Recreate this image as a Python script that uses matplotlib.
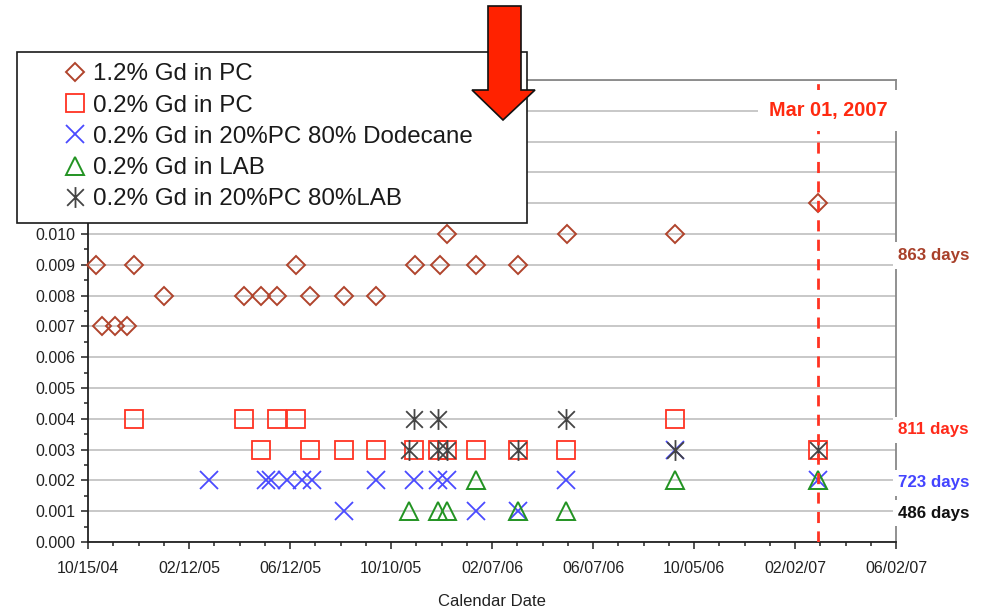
import numpy as np
import matplotlib
matplotlib.use('Agg')
import matplotlib.pyplot as plt
from matplotlib.lines import Line2D
from matplotlib.patches import Rectangle, Polygon
from matplotlib.path import Path
import matplotlib.transforms as mtransforms

START = np.datetime64('2004-10-15')
END = np.datetime64('2007-06-02')

gd12_pc_days = [10, 17, 32, 46, 55, 90, 185, 206, 225, 247, 264, 304, 342,
                388, 418, 426, 461, 511, 569, 698, 867]
gd12_pc_vals = [0.009, 0.007, 0.007, 0.007, 0.009, 0.008, 0.008, 0.008, 0.008,
                0.009, 0.008, 0.008, 0.008, 0.009, 0.009, 0.010, 0.009, 0.009,
                0.010, 0.010, 0.011]

gd02_pc_days = [55, 185, 206, 224, 247, 264, 304, 342, 387, 416, 426, 461,
                511, 568, 698, 867]
gd02_pc_vals = [0.004, 0.004, 0.003, 0.004, 0.004, 0.003, 0.003, 0.003, 0.003,
                0.003, 0.003, 0.003, 0.003, 0.003, 0.004, 0.003]

gd02_dod_days = [144, 211, 218, 236, 254, 266, 304, 342, 387, 416, 426, 461,
                 511, 568, 698, 867]
gd02_dod_vals = [0.002, 0.002, 0.002, 0.002, 0.002, 0.002, 0.001, 0.002, 0.002,
                 0.002, 0.002, 0.001, 0.001, 0.002, 0.003, 0.002]

gd02_lab_days = [381, 416, 426, 461, 511, 568, 698, 867]
gd02_lab_vals = [0.001, 0.001, 0.001, 0.002, 0.001, 0.001, 0.002, 0.002]

gd02_pclab_days = [381, 387, 416, 416, 426, 511, 568, 698, 867]
gd02_pclab_vals = [0.003, 0.004, 0.004, 0.003, 0.003, 0.003, 0.004, 0.003, 0.003]

SERIES_LABELS = ['1.2% Gd in PC', '0.2% Gd in PC',
                 '0.2% Gd in 20%PC 80% Dodecane', '0.2% Gd in LAB',
                 '0.2% Gd in 20%PC 80%LAB']

DAYS_LABELS = ['863 days', '811 days', '723 days', '486 days']
DAYS_LABEL_Y = [0.0093, 0.00364, 0.00192, 0.00094]
DAYS_COLORS = ['#a8402a', '#ff2a1a', '#4444ff', '#111111']

CUTOFF = np.datetime64('2007-03-01')
CUTOFF_TEXT = 'Mar 01, 2007'

plt.rcParams['font.family'] = ['Liberation Sans', 'DejaVu Sans']


def to_dates(days):
    return START + np.array(days).astype('timedelta64[D]')


# asterisk: an x with a vertical bar
star = Path([(-1, -1), (1, 1), (-1, 1), (1, -1), (0, -1.25), (0, 1.25)],
            [Path.MOVETO, Path.LINETO] * 3)

styles = [
    dict(marker='D', ms=9.5, mfc='none', mec='#b0442c', mew=1.4),
    dict(marker='s', ms=13, mfc='none', mec='#ff3322', mew=1.3),
    dict(marker='x', ms=12.5, mec='#4a4aff', mew=1.3),
    dict(marker='^', ms=13, mfc='none', mec='#229322', mew=1.4),
    dict(marker=star, ms=15, mec='#444444', mew=1.3),
]
series = [(gd12_pc_days, gd12_pc_vals), (gd02_pc_days, gd02_pc_vals),
          (gd02_dod_days, gd02_dod_vals), (gd02_lab_days, gd02_lab_vals),
          (gd02_pclab_days, gd02_pclab_vals)]

fig = plt.figure(figsize=(9.87, 6.14), dpi=100)
W, H = 987.0, 614.0
ax = fig.add_axes([88 / W, 72 / H, 808 / W, 462 / H])

for (d, v), st in zip(series, styles):
    ax.plot(to_dates(d), v, ls='none', zorder=3, clip_on=False, **st)

ax.set_xlim(START, END)
ax.set_ylim(0, 0.015)

major = START + np.arange(0, 961, 120).astype('timedelta64[D]')
minor = START + np.arange(0, 961, 30).astype('timedelta64[D]')
ax.set_xticks(major)
ax.set_xticks(minor, minor=True)
ax.set_xticklabels([str(m.astype(object).strftime('%m/%d/%y')) for m in major])
ax.set_yticks(np.arange(0, 0.0151, 0.001))
ax.set_yticks(np.arange(0, 0.0151, 0.0005), minor=True)
ax.set_yticklabels(['%.3f' % t for t in np.arange(0, 0.0151, 0.001)])

ax.tick_params(which='major', direction='out', length=5, width=1.1,
               labelsize=11.5, colors='#222222')
ax.tick_params(which='minor', direction='out', length=3, width=1.1, colors='#222222')
ax.tick_params(axis='x', which='major', pad=9)
ax.tick_params(axis='y', which='major', pad=4)

ax.grid(axis='y', which='major', color='#c4c4c4', lw=1.3, zorder=0)
ax.set_axisbelow(True)
for side in ['top', 'right']:
    ax.spines[side].set_color('#888888')
    ax.spines[side].set_linewidth(1.3)
for side in ['left', 'bottom']:
    ax.spines[side].set_color('#222222')
    ax.spines[side].set_linewidth(1.3)

ax.set_xlabel('Calendar Date', fontsize=12, color='#222222', labelpad=13)

# cutoff date
ax.axvline(CUTOFF, color='#ff3322', lw=2, ls=(0, (4, 3)), zorder=4)
ax.annotate(CUTOFF_TEXT, xy=(CUTOFF, 0.014), xytext=(11, 0),
            textcoords='offset pixels', ha='center', va='center',
            color='#ff2a10', fontsize=14.3, fontweight='bold',
            bbox=dict(fc='white', ec='none', pad=8), zorder=6)

# exposure labels on the right
tr = mtransforms.blended_transform_factory(ax.transAxes, ax.transData)
for lab, y, c in zip(DAYS_LABELS, DAYS_LABEL_Y, DAYS_COLORS):
    ax.text(1.003, y, lab, transform=tr, ha='left', va='center', color=c,
            fontsize=12.2, fontweight='bold',
            bbox=dict(fc='white', ec='none', pad=4), zorder=6)

# legend box over the upper left of the plot
fig.add_artist(Rectangle((17 / W, 1 - 223 / H), 510 / W, 171 / H,
                         transform=fig.transFigure, fc='white', ec='#1a1a1a',
                         lw=1.2, zorder=1))
handles = [Line2D([], [], ls='none', **st) for st in styles]
fig.legend(handles, SERIES_LABELS, loc='upper left',
           bbox_to_anchor=(63 / W, 1 - 63.5 / H), bbox_transform=fig.transFigure,
           frameon=False, fontsize=17.4, handlelength=1.0, handletextpad=0.25,
           labelspacing=0.38, borderpad=0, borderaxespad=0,
           labelcolor='#1a1a1a')

# big red arrow
arrow = [(488, 6), (521, 6), (521, 90), (535, 90), (503, 120), (472, 90), (488, 90)]
fig.add_artist(Polygon([(x / W, 1 - y / H) for x, y in arrow], closed=True,
                       transform=fig.transFigure, fc='#ff2200', ec='#111111',
                       lw=1.2, zorder=6))

fig.savefig('out.png', dpi=100)
